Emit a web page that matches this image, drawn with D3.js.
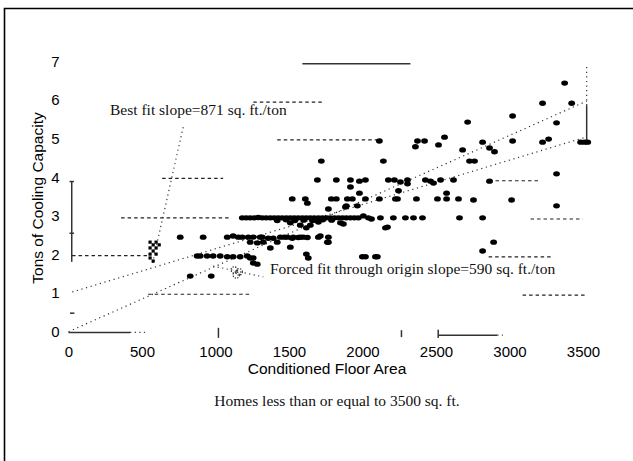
<!DOCTYPE html>
<html><head><meta charset="utf-8">
<script src="https://cdn.jsdelivr.net/npm/d3@7"></script>
<style>body{margin:0;background:#fff} svg{display:block}</style>
</head><body>
<svg id="chart" width="633" height="461"></svg>
<script>
// ---------- data ----------
const xTicks = [0, 500, 1000, 1500, 2000, 2500, 3000, 3500];
const yTicks = [0, 1, 2, 3, 4, 5, 6, 7];
const xTitle = "Conditioned Floor Area";
const yTitle = "Tons of Cooling Capacity";
const subTitle = "Homes less than or equal to 3500 sq. ft.";
const bestFitLabel = "Best fit slope=871 sq. ft./ton";
const originFitLabel = "Forced fit through origin slope=590 sq. ft./ton";

// homes: [conditioned floor area (sq ft), tons of cooling]
const homes = [
 [3375,6.44],[3225,5.92],[3423,5.92],[3021,5.59],[2715,5.43],[3320,5.41],
 [2115,4.94],[2374,4.94],[2422,4.94],[2360,4.79],[2517,4.84],[2558,5.04],[2681,4.71],[2817,4.91],[2864,4.76],[2898,4.66],
 [3021,4.94],[3225,4.91],[3266,4.99],[3484,4.91],[3511,4.91],[3532,4.91],
 [1720,4.42],[2142,4.42],[2728,4.42],[2762,4.42],
 [3320,4.09],[2864,3.90],
 [1693,3.93],[1822,3.93],[1918,3.93],[1979,3.90],[2020,3.93],[2176,3.93],[2217,3.93],[2258,3.88],[2306,3.93],[2306,3.83],
 [2428,3.93],[2463,3.90],[2483,3.85],[2531,3.93],[2619,3.93],
 [1918,3.75],[2572,3.59],[2245,3.65],[1979,3.59],
 [1522,3.44],[1611,3.44],[1625,3.33],[1788,3.44],[1822,3.44],[1897,3.44],[1931,3.44],[2020,3.44],[2115,3.44],[2224,3.44],
 [2238,3.44],[2367,3.44],[2510,3.44],[2572,3.44],[2653,3.44],[2755,3.41],[3014,3.41],[3320,3.26],
 [1890,3.26],[1965,3.26],[1768,3.18],[1884,3.23],
 [1182,2.95],[1209,2.95],[1236,2.95],[1264,2.95],[1291,2.96],[1318,2.95],[1345,2.95],[1373,2.95],[1400,2.95],[1427,2.95],
 [1454,2.95],[1482,2.95],[1509,2.95],[1536,2.95],[1563,2.95],[1591,2.95],[1618,2.95],[1645,2.95],[1672,2.95],[1700,2.95],
 [1727,2.95],[1754,2.95],[1781,2.95],[1809,2.95],[1836,2.95],[1863,2.95],[1890,2.95],[1918,2.95],[1945,2.95],[1972,2.95],
 [2040,2.95],[2122,2.95],[2210,2.95],[2292,2.95],[2347,2.95],[2408,2.95],[2660,2.95],[2817,2.95],
 [1420,2.88],[1480,2.90],[1540,2.88],[1600,2.89],[1660,2.88],[1730,2.90],[1790,2.89],
 [1509,2.82],[1577,2.76],[1645,2.76],[1700,2.84],[1850,2.82],[2006,3.00],[2061,2.92],[1870,2.79],[2156,2.69],[2170,2.71],
 [1618,2.69],[1713,2.48],[1768,2.45],[1597,2.45],[1768,2.32],
 [760,2.45],[916,2.45],[1080,2.45],[1120,2.48],[1155,2.45],[1182,2.45],[1223,2.45],[1257,2.45],[1304,2.45],[1318,2.45],
 [1359,2.42],[1393,2.42],[1441,2.45],[1468,2.45],[1489,2.45],[1522,2.42],[1529,2.45],[1563,2.44],[1577,2.45],[1625,2.44],
 [1700,2.45],
 [1236,2.32],[1284,2.30],[1325,2.32],[1420,2.32],[1761,2.32],[1509,2.19],[1373,2.17],
 [875,1.96],[896,1.96],[943,1.96],[984,1.96],[1032,1.96],[1080,1.94],[1120,1.94],[1168,1.94],[1216,1.96],[1236,1.91],
 [1257,1.91],[1618,2.01],[1631,1.91],[1999,1.94],[2020,1.94],[2088,1.94],[2101,1.94],
 [1284,1.75],[1257,1.78],
 [2817,2.09],[2892,2.32],
 [828,1.44],[971,1.44]
];
// checkered marks (overlapping homes near 600 sq ft)
const checkerPts = [
 [555,2.32],[596,2.32],[576,2.25],[617,2.25],[555,2.17],[596,2.17],[576,2.09],[555,2.01],[596,2.01],[555,1.91],[576,1.83]
];
// hollow marks near 1150 sq ft
const hollowPts = [[1127,1.60],[1161,1.55],[1141,1.47]];

// fit lines
const bestFitSqftPerTon = 871, bestFitIntercept = 1.0;
const originFitSqftPerTon = 590;
const fitRange = [25, 3525];

// dashed horizontal segments: [fromSqft, toSqft, tons]
const dashedSegs = [
 [1257,1727,5.95],[1420,2101,4.97],[637,1052,3.97],[358,1100,2.95],[24,542,1.97],[542,1250,0.97],
 [2905,3211,3.91],[3143,3498,2.92],[2858,3294,1.94],[3089,3518,0.95]
];
// solid segments: [x1, y1, x2, y2] in data units
const solidSegs = [
 [1591,6.94,2326,6.94],
 [3525,4.92,3525,5.87],
 [22,3.89,22,1.81],[7,2.55,37,2.55],[7,3.89,37,3.89],
 [10,0.48,40,0.48],
 [0,-0.02,419,-0.02],
 [1020,0.10,1020,-0.16],
 [2265,0.04,2265,-0.14],
 [2515,0.05,2515,-0.16],[2515,-0.09,2917,-0.09]
];
// dotted segments (leaders and whisker tails): [x1, y1, x2, y2]
const dottedSegs = [
 [780,5.30,569,1.73],
 [984,1.70,1325,1.42],
 [3525,5.87,3525,6.92],
 [419,-0.02,520,-0.02],
 [2917,-0.09,2955,-0.09]
];

// ---------- chart ----------
const svg = d3.select("#chart");
const x = d3.scaleLinear().domain([0, 3500]).range([68.5, 583]);
const y = d3.scaleLinear().domain([0, 7]).range([331.7, 61.5]);
const sans = "'Liberation Sans', Arial, Helvetica, sans-serif";
const serif = "'Liberation Serif', 'Times New Roman', serif";

// frame
svg.append("path").attr("d", "M4.5,470 V8.5 H640")
  .attr("fill", "none").attr("stroke", "#000").attr("stroke-width", 1.6);

// axes (labels only)
const gx = svg.append("g").attr("transform", `translate(0,${y(0)})`)
  .call(d3.axisBottom(x).tickValues(xTicks).tickFormat(d3.format("d")).tickSize(0).tickPadding(14.5));
const gy = svg.append("g").attr("transform", `translate(${x(0)},0)`)
  .call(d3.axisLeft(y).tickValues(yTicks).tickFormat(d3.format("d")).tickSize(0).tickPadding(9));
[gx, gy].forEach(g => {
  g.select(".domain").remove();
  g.selectAll("text").attr("font-family", sans).attr("font-size", 15).attr("fill", "#000");
});

svg.append("text").attr("x", 327).attr("y", 374).attr("text-anchor", "middle")
  .attr("font-family", sans).attr("font-size", 15.5).attr("fill", "#000").text(xTitle);
svg.append("text").attr("transform", "translate(43,198) rotate(-90)").attr("text-anchor", "middle")
  .attr("font-family", sans).attr("font-size", 15.5).attr("fill", "#000").text(yTitle);
svg.append("text").attr("x", 337).attr("y", 406).attr("text-anchor", "middle")
  .attr("font-family", serif).attr("font-size", 15.5).attr("fill", "#111").text(subTitle);

// dashed segments
svg.append("g").selectAll("line").data(dashedSegs).join("line")
  .attr("x1", d => x(d[0])).attr("x2", d => x(d[1]))
  .attr("y1", d => y(d[2])).attr("y2", d => y(d[2]))
  .attr("stroke", "#222").attr("stroke-width", 1.2).attr("stroke-dasharray", "3.5,3");

// solid segments
svg.append("g").selectAll("line").data(solidSegs).join("line")
  .attr("x1", d => x(d[0])).attr("y1", d => y(d[1]))
  .attr("x2", d => x(d[2])).attr("y2", d => y(d[3]))
  .attr("stroke", "#333").attr("stroke-width", 1.5);

// dotted segments
svg.append("g").selectAll("line").data(dottedSegs).join("line")
  .attr("x1", d => x(d[0])).attr("y1", d => y(d[1]))
  .attr("x2", d => x(d[2])).attr("y2", d => y(d[3]))
  .attr("stroke", "#333").attr("stroke-width", 1.2).attr("stroke-dasharray", "1.2,3.4");

// fit lines
const fitLines = [
  fitRange.map(s => [s, bestFitIntercept + s / bestFitSqftPerTon]),
  fitRange.map(s => [s, s / originFitSqftPerTon])
];
fitLines[1][0] = [0, 0];
svg.append("g").selectAll("path").data(fitLines).join("path")
  .attr("d", d3.line().x(d => x(d[0])).y(d => y(d[1])))
  .attr("fill", "none").attr("stroke", "#333").attr("stroke-width", 1.2).attr("stroke-dasharray", "1.2,3.6");

// points
svg.append("g").selectAll("ellipse").data(homes).join("ellipse")
  .attr("cx", d => x(d[0])).attr("cy", d => y(d[1]))
  .attr("rx", 3.4).attr("ry", 2.7).attr("fill", "#000");

svg.append("g").selectAll("rect").data(checkerPts).join("rect")
  .attr("x", d => x(d[0]) - 1.6).attr("y", d => y(d[1]) - 1.6)
  .attr("width", 3.2).attr("height", 3.2).attr("fill", "#000");

svg.append("g").selectAll("circle").data(hollowPts).join("circle")
  .attr("cx", d => x(d[0])).attr("cy", d => y(d[1])).attr("r", 3.2)
  .attr("fill", "none").attr("stroke", "#222").attr("stroke-width", 1.1).attr("stroke-dasharray", "1.3,1.3");

// fit labels
svg.append("text").attr("x", 110).attr("y", 115)
  .attr("font-family", serif).attr("font-size", 15.5).attr("fill", "#111").text(bestFitLabel);
svg.append("text").attr("x", 270).attr("y", 274)
  .attr("font-family", serif).attr("font-size", 15.5).attr("fill", "#111").text(originFitLabel);
</script>
</body></html>
